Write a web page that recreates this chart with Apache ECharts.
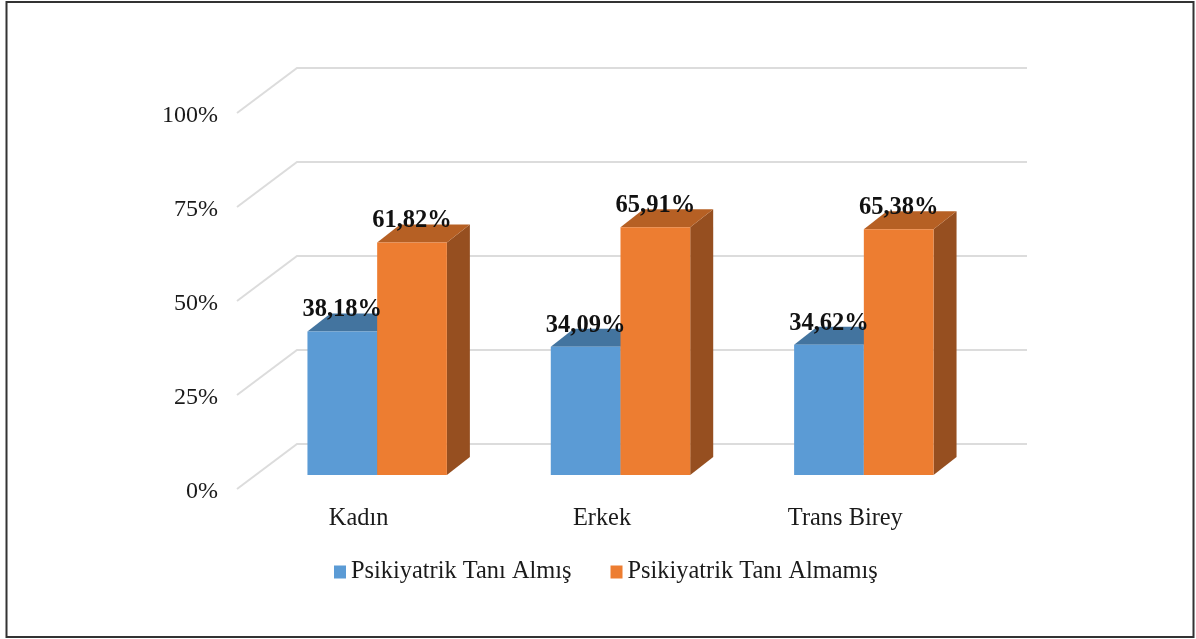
<!DOCTYPE html>
<html>
<head>
<meta charset="utf-8">
<style>html,body{margin:0;padding:0;background:#fff}#c{width:1196px;height:639px}</style>
<script src="https://cdn.jsdelivr.net/npm/echarts@6/dist/echarts.min.js"></script>
</head>
<body>
<div id="c"></div>
<script>
const categories = ['Kadın', 'Erkek', 'Trans Birey'];
const tani = [38.18, 34.09, 34.62];
const taniYok = [61.82, 65.91, 65.38];
const ticks = [0, 25, 50, 75, 100];
const names = ['Psikiyatrik Tanı Almış', 'Psikiyatrik Tanı Almamış'];

const FONT = '"Liberation Serif","Times New Roman",serif';
const WALL = [60, -45], BAR_OFF = [18.5, -14], BAR_DEPTH = [23, -18], BAR_RATIO = 0.2865;
const shades = [
  { front: '#5B9BD5', top: '#43749F', side: '#3F6E98' },
  { front: '#ED7D31', top: '#B66024', side: '#964F20' }
];

function barRender(idx) {
  return function (params, api) {
    const cat = api.value(0), val = api.value(1);
    const base = api.coord([cat, 0]), top = api.coord([cat, val]);
    const w = api.size([1, 0])[0] * BAR_RATIO;
    const x0 = base[0] + BAR_OFF[0] + (idx - 1) * w, x1 = x0 + w;
    const yb = base[1] + BAR_OFF[1], yt = top[1] + BAR_OFF[1];
    const dx = BAR_DEPTH[0], dy = BAR_DEPTH[1], c = shades[idx];
    return {
      type: 'group',
      children: [
        { type: 'polygon', shape: { points: [[x1, yb], [x1 + dx, yb + dy], [x1 + dx, yt + dy], [x1, yt]] }, style: { fill: c.side } },
        { type: 'polygon', shape: { points: [[x0, yt], [x0 + dx, yt + dy], [x1 + dx, yt + dy], [x1, yt]] }, style: { fill: c.top } },
        { type: 'rect', shape: { x: x0, y: yt, width: w, height: yb - yt }, style: { fill: c.front } },
        { type: 'text', z2: 20, style: {
            x: (x0 + x1) / 2, y: yt - 21.5,
            text: val.toFixed(2).replace('.', ',') + '%',
            font: 'bold 24.5px ' + FONT, fill: '#111', align: 'center', verticalAlign: 'middle'
        } }
      ]
    };
  };
}

function gridRender(params, api) {
  const v = api.value(0);
  const a = api.coord([0, v]);
  const xLeft = api.coord([0, 0])[0] - api.size([1, 0])[0] / 2;
  const xRight = xLeft + api.size([1, 0])[0] * categories.length;
  const ls = { stroke: '#DCDCDC', lineWidth: 2, fill: null };
  return {
    type: 'polyline',
    shape: { points: [[xLeft, a[1]], [xLeft + WALL[0], a[1] + WALL[1]], [xRight + WALL[0], a[1] + WALL[1]]] },
    style: ls
  };
}

const chart = echarts.init(document.getElementById('c'), null, { renderer: 'canvas' });
chart.setOption({
  animation: false,
  backgroundColor: '#fff',
  grid: { left: 237, top: 113, width: 730, height: 376 },
  xAxis: {
    type: 'category', data: categories,
    axisLine: { show: false }, axisTick: { show: false }, splitLine: { show: false },
    axisLabel: { fontFamily: FONT, fontSize: 24.4, color: '#1a1a1a', margin: 18 }
  },
  yAxis: {
    type: 'value', min: 0, max: 100, interval: 25,
    axisLine: { show: false }, axisTick: { show: false }, splitLine: { show: false },
    axisLabel: { fontFamily: FONT, fontSize: 24, color: '#1a1a1a', margin: 19, verticalAlign: 'top', lineHeight: 6, formatter: '{value}%' }
  },
  legend: {
    data: names, left: 329, top: 555, itemWidth: 12, itemHeight: 13, itemGap: 39, icon: 'rect',
    textStyle: { fontFamily: FONT, fontSize: 24.4, color: '#1a1a1a' }
  },
  graphic: [{
    type: 'rect', silent: true, z: 100,
    shape: { x: 6.5, y: 2, width: 1187, height: 635 },
    style: { fill: 'none', stroke: '#333', lineWidth: 2 }
  }],
  series: [
    { type: 'custom', name: 'grid', renderItem: gridRender, silent: true, z: 1,
      data: ticks.map(t => [t]), encode: { y: 0 } },
    { type: 'custom', name: names[0], renderItem: barRender(0), z: 2, itemStyle: { color: shades[0].front },
      data: tani.map((v, i) => [i, v]), encode: { x: 0, y: 1 } },
    { type: 'custom', name: names[1], renderItem: barRender(1), z: 2, itemStyle: { color: shades[1].front },
      data: taniYok.map((v, i) => [i, v]), encode: { x: 0, y: 1 } }
  ]
});
</script>
</body>
</html>
